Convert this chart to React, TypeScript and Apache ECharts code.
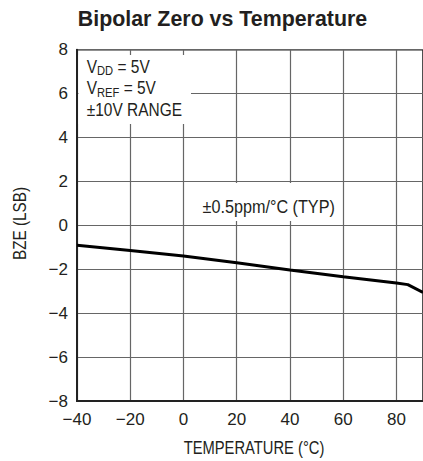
import { useEffect, useRef } from "react";
import * as echarts from "echarts";

// Data
const temperature = [-40, -20, 0, 20, 40, 60, 80, 84.3, 90];
const bze = [-0.91, -1.15, -1.4, -1.7, -2.03, -2.34, -2.63, -2.7, -3.06];

const xMin = -40;
const xMax = 90;
const xStep = 20;
const yMin = -8;
const yMax = 8;
const yStep = 2;

const titleText = "Bipolar Zero vs Temperature";
const xName = "TEMPERATURE (°C)";
const yName = "BZE (LSB)";
const noteTyp = "±0.5ppm/°C (TYP)";
const noteConditions = "V{sub|DD} = 5V\nV{sub|REF} = 5V\n±10V RANGE";

const F = "'Liberation Sans', Arial, Helvetica, sans-serif";
const TXT = "#231f20";

const minus = (v: number) => (v < 0 ? "\u2212" + Math.abs(v) : String(v));

export default function App() {
  const ref = useRef<HTMLDivElement>(null);
  useEffect(() => {
    const chart = echarts.init(ref.current!, null, { renderer: "svg" });
    chart.setOption({
      animation: false,
      grid: {
        left: 77,
        top: 49.7,
        right: -5.7,
        bottom: 60,
        show: true,
        borderColor: "#222",
        borderWidth: 1.6,
        backgroundColor: "transparent",
      },
      xAxis: {
        type: "value",
        min: xMin,
        max: xMax,
        interval: xStep,
        axisLine: { show: true, onZero: false, lineStyle: { color: "#222", width: 2 } },
        axisTick: { show: false },
        axisLabel: {
          showMaxLabel: false,
          margin: 10,
          fontFamily: F,
          fontSize: 17,
          color: TXT,
          formatter: (v: number) => (v > 80 ? "" : minus(v)),
        },
        splitLine: { show: true, lineStyle: { color: "#666", width: 1.2 } },
      },
      yAxis: {
        type: "value",
        min: yMin,
        max: yMax,
        interval: yStep,
        axisLine: { show: true, onZero: false, lineStyle: { color: "#222", width: 2 } },
        axisTick: { show: false },
        axisLabel: {
          margin: 9,
          fontFamily: F,
          fontSize: 17,
          color: TXT,
          formatter: (v: number) => minus(v),
        },
        splitLine: { show: true, lineStyle: { color: "#666", width: 1.2 } },
      },
      series: [
        {
          type: "line",
          data: temperature.map((t, i) => [t, bze[i]]),
          showSymbol: false,
          lineStyle: { color: "#000", width: 3 },
          z: 5,
        },
      ],
      graphic: [
        {
          type: "text",
          x: 222.5,
          y: 18.5,
          scaleX: 0.93,
          z: 100,
          style: {
            text: titleText,
            fontFamily: F,
            fontWeight: "bold",
            fontSize: 23,
            fill: TXT,
            align: "center",
            verticalAlign: "middle",
          },
        },
        {
          type: "rect",
          z: 99,
          shape: { x: 78.5, y: 55, width: 112.5, height: 69 },
          style: { fill: "#fff" },
        },
        {
          type: "text",
          x: 86.7,
          y: 56,
          scaleX: 0.86,
          z: 100,
          style: {
            text: noteConditions,
            fontFamily: F,
            fontSize: 18,
            lineHeight: 21.7,
            fill: TXT,
            align: "left",
            verticalAlign: "top",
            rich: {
              sub: {
                fontFamily: F,
                fontSize: 13,
                lineHeight: 13,
                verticalAlign: "bottom",
                fill: TXT,
              },
            },
          },
        },
        {
          type: "rect",
          z: 99,
          shape: { x: 198, y: 183, width: 142, height: 38 },
          style: { fill: "#fff" },
        },
        {
          type: "text",
          x: 268.7,
          y: 207,
          scaleX: 0.9,
          z: 100,
          style: {
            text: noteTyp,
            fontFamily: F,
            fontSize: 18,
            fill: TXT,
            align: "center",
            verticalAlign: "middle",
          },
        },
        {
          type: "text",
          x: 254,
          y: 447.5,
          scaleX: 0.82,
          z: 100,
          style: {
            text: xName,
            fontFamily: F,
            fontSize: 18,
            fill: TXT,
            align: "center",
            verticalAlign: "middle",
          },
        },
        {
          type: "text",
          x: 20,
          y: 223.5,
          rotation: Math.PI / 2,
          scaleX: 0.85,
          z: 100,
          style: {
            text: yName,
            fontFamily: F,
            fontSize: 18,
            fill: TXT,
            align: "center",
            verticalAlign: "middle",
          },
        },
      ],
    });
    return () => chart.dispose();
  }, []);
  return (
    <div
      ref={ref}
      style={{ position: "absolute", left: 0, top: 0, width: 423, height: 461 }}
    />
  );
}
